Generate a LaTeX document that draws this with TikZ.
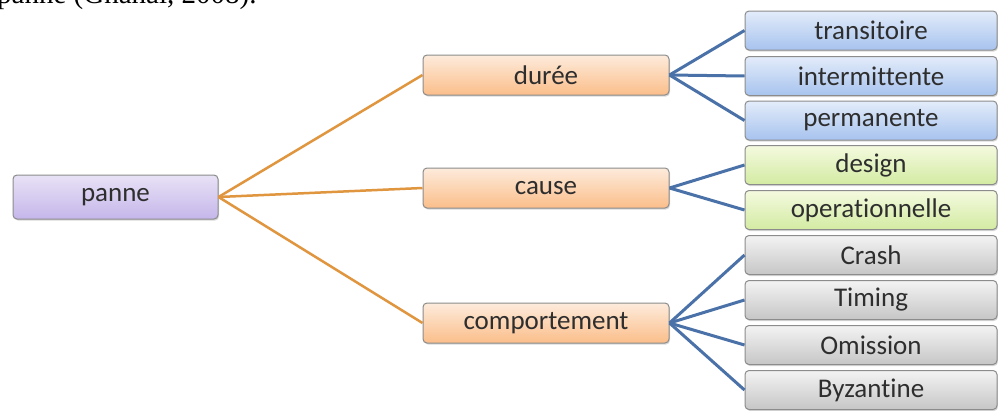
\documentclass[tikz,border=0pt]{standalone}
\usepackage{fontspec}
\setmainfont[Ligatures=NoCommon,RawFeature={-liga;-calt;-clig}]{Carlito}
\newfontfamily\serifface{Liberation Serif}
\usetikzlibrary{shadows}
\definecolor{txt}{HTML}{2E2E2E}
\definecolor{bord}{HTML}{8C8C8C}
\definecolor{orline}{HTML}{E0953F}
\definecolor{blline}{HTML}{4A72A8}
\definecolor{rootT}{HTML}{E8E2F6}
\definecolor{rootB}{HTML}{C5B6EA}
\definecolor{midT}{HTML}{FDEBDC}
\definecolor{midB}{HTML}{FBBE8A}
\definecolor{blueT}{HTML}{E3ECFA}
\definecolor{blueB}{HTML}{A7C3EE}
\definecolor{greenT}{HTML}{F4FADF}
\definecolor{greenB}{HTML}{D3EBA2}
\definecolor{grayT}{HTML}{F3F3F3}
\definecolor{grayB}{HTML}{C6C6C6}
\tikzset{
  box/.style={draw=bord, line width=1pt, rounded corners=4pt, text=txt,
    font=\fontsize{27}{30}\selectfont, inner sep=0pt,
    drop shadow={opacity=0.3, shadow xshift=1pt, shadow yshift=-1.5pt}},
  rootbox/.style={box, minimum width=205pt, minimum height=44pt,
    top color=rootT, bottom color=rootB},
  midbox/.style={box, minimum width=246pt, minimum height=40pt,
    top color=midT, bottom color=midB},
  leafbox/.style={box, minimum width=252pt, minimum height=39pt},
  blueleaf/.style={leafbox, top color=blueT, bottom color=blueB},
  greenleaf/.style={leafbox, top color=greenT, bottom color=greenB},
  grayleaf/.style={leafbox, top color=grayT, bottom color=grayB},
  orconn/.style={draw=orline, line width=2.5pt},
  blconn/.style={draw=blline, line width=3pt},
}
\begin{document}
\begin{tikzpicture}[x=1pt,y=-1pt]
\useasboundingbox (0,0) rectangle (998,410);
\clip (0,0) rectangle (998,410);
\fill[white] (0,0) rectangle (998,410);
\node[anchor=base west, inner sep=0pt, font=\serifface\fontsize{29}{32}\selectfont] (cap) at (-3,3) {panne (Ghanai, 2008).};
% nodes
\node[rootbox] (panne) at (115.5,197) {panne};
\node[midbox] (duree) at (546,75) {durée};
\node[midbox] (cause) at (546,188) {cause};
\node[midbox] (comp) at (546,323) {comportement};
\node[blueleaf] (t1) at (871,30.5) {transitoire};
\node[blueleaf] (t2) at (871,76) {intermittente};
\node[blueleaf] (t3) at (871,120.5) {permanente};
\node[greenleaf] (c1) at (871,165) {design};
\node[greenleaf] (c2) at (871,210) {operationnelle};
\node[grayleaf] (b1) at (871,255) {Crash};
\node[grayleaf] (b2) at (871,300) {Timing};
\node[grayleaf] (b3) at (871,345) {Omission};
\node[grayleaf] (b4) at (871,390) {Byzantine};
% connectors
\foreach \m in {duree,cause,comp} \draw[orconn] (panne.east) -- (\m.west);
\foreach \l in {t1,t2,t3} \draw[blconn] (duree.east) -- (\l.west);
\foreach \l in {c1,c2} \draw[blconn] (cause.east) -- (\l.west);
\foreach \l in {b1,b2,b3,b4} \draw[blconn] (comp.east) -- (\l.west);
\end{tikzpicture}
\end{document}
